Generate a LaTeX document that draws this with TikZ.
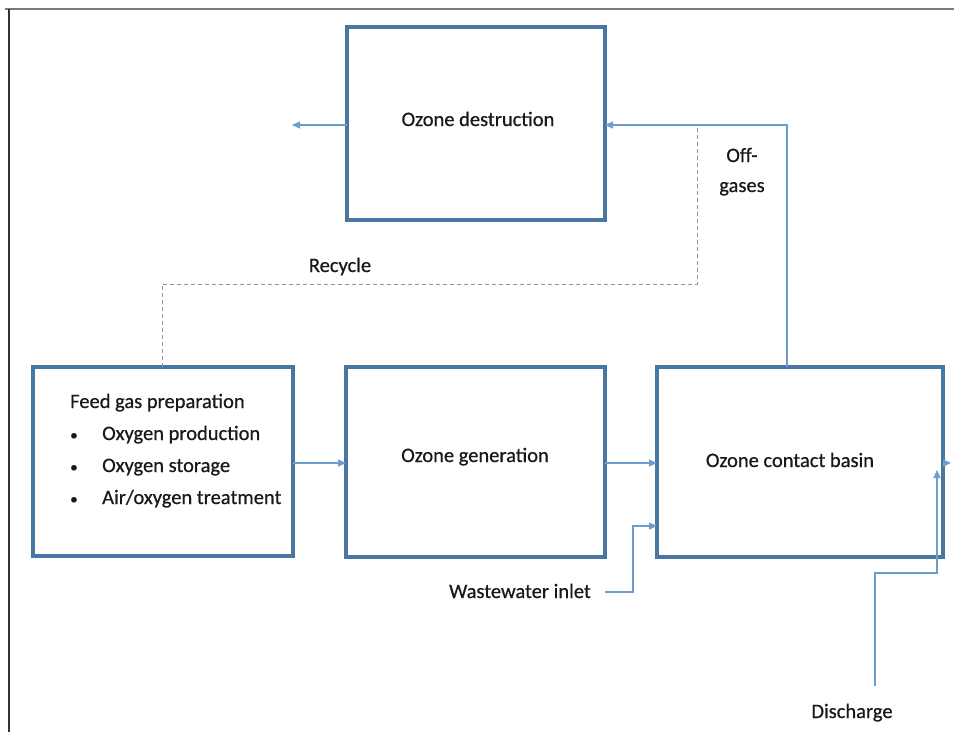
\documentclass[tikz,border=0pt]{standalone}
\usepackage{fontspec}
\setmainfont{Carlito}[FakeBold=0.6]
\usetikzlibrary{arrows.meta}
\definecolor{boxblue}{HTML}{4A76A2}
\definecolor{lineblue}{HTML}{6E9DCB}
\definecolor{dashgray}{HTML}{8498B0}
\definecolor{framegray}{HTML}{7A7A7A}
\newcommand{\smallbul}{{\fontsize{15pt}{15pt}\selectfont\textbullet}}
\begin{document}
\begin{tikzpicture}[x=1pt,y=-1pt,
  box/.style={draw=boxblue, line width=4pt, inner sep=0pt, outer sep=0pt},
  lbl/.style={anchor=base, inner sep=0pt, text=black!90, font=\fontsize{20.5pt}{24pt}\selectfont},
  lbll/.style={lbl, anchor=base west},
  flow/.style={draw=lineblue, line width=1.2pt, -{Triangle[length=8pt,width=7pt]}},
  recyc/.style={draw=dashgray, line width=0.9pt, dash pattern=on 4pt off 3pt}]
\useasboundingbox (0,0) rectangle (954,732);
\fill[white] (0,0) rectangle (954,732);
% frame
\draw[framegray, line width=2pt] (5,9) -- (954,9);
\draw[black!80, line width=1.2pt] (9,9) -- (9,732);
% boxes
\node[box, minimum width=258pt, minimum height=193pt] (destr) at (476,123.5) {};
\node[box, minimum width=260pt, minimum height=189pt] (feed) at (163,461.5) {};
\node[box, minimum width=259pt, minimum height=190pt] (gen) at (475.5,462) {};
\node[box, minimum width=286pt, minimum height=190pt] (cont) at (800,462) {};
% labels
\node[lbl] (tdestr) at (478,126) {Ozone destruction};
\node[lbl] (tgen) at (475,462) {Ozone generation};
\node[lbl] (tcont) at (790,467) {Ozone contact basin};
\node[lbll] (fg0) at (70,408) {Feed gas preparation};
\node[lbll] (fg1) at (70,440) {\makebox[32pt][l]{\smallbul}Oxygen production};
\node[lbll] (fg2) at (70,472) {\makebox[32pt][l]{\smallbul}Oxygen storage};
\node[lbll] (fg3) at (70,504) {\makebox[32pt][l]{\smallbul}Air/oxygen treatment};
\node[lbl] (toff1) at (742,162) {Off-};
\node[lbl] (toff2) at (742,192) {gases};
\node[lbl] (trec) at (340,272) {Recycle};
\node[lbl, anchor=base east] (tww) at (591,598) {Wastewater inlet};
\node[lbl] (tdis) at (852,718) {Discharge};
% coordinates
\coordinate (out1) at (292,125);
\coordinate (og) at (787,367);
\coordinate (r1) at (697,128);
\coordinate (rc) at (162,284);
\coordinate (w0) at (605,592);
\coordinate (wk) at (633,526);
\coordinate (d1) at (875,686);
\coordinate (d3) at (937,573);
\coordinate (d4) at (937,470);
\coordinate (out2) at (951,463);
% connectors
\draw[flow] (destr.west |- out1) -- (out1);
\draw[flow] (og) |- (destr.east |- out1);
\draw[recyc] (r1) |- (rc) -- (feed.north -| rc);
\draw[flow] (feed.east |- out2) -- (gen.west |- out2);
\draw[flow] (gen.east |- out2) -- (cont.west |- out2);
\draw[flow] (cont.east |- out2) -- (out2);
\draw[flow] (w0) -| (wk) -- (cont.west |- wk);
\draw[flow] (d1) |- (d3) -- (d4);
\end{tikzpicture}
\end{document}
